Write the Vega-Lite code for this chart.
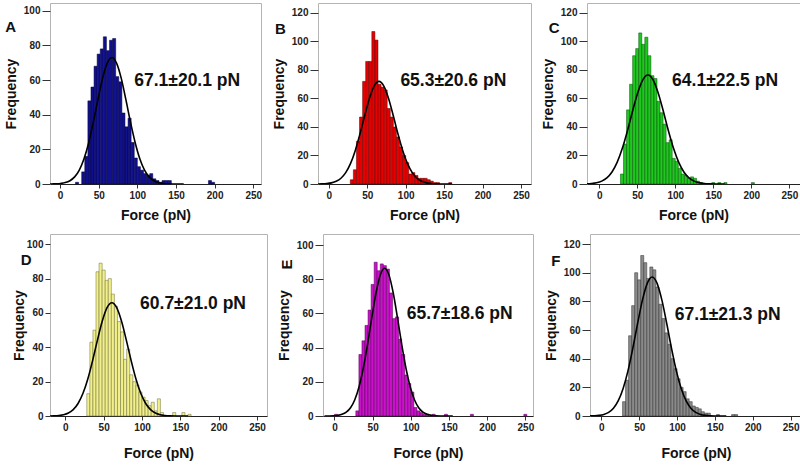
{
"$schema":"https://vega.github.io/schema/vega-lite/v6.json",
"padding":{"left":3,"top":2,"right":0,"bottom":0},
"background":"white",
"config":{
 "view":{"stroke":"#b4b4b4","strokeWidth":1},
 "axis":{"grid":false,"labelFont":"Liberation Sans","labelFontWeight":"bold","labelFontSize":10,"labelColor":"#222","titleFont":"Liberation Sans","titleFontWeight":"bold","titleFontSize":14,"titleColor":"#111","tickColor":"#333","domainColor":"#222"},
 "axisY":{"domain":false,"tickSize":8,"labelPadding":2,"titlePadding":5},
 "axisX":{"tickSize":4,"labelPadding":2,"titlePadding":8,"labelFlush":false}
},
"datasets":{
 "hA":[{"lo":20,"hi":24,"n":1},{"lo":28,"hi":32,"n":7},{"lo":32,"hi":36,"n":16},{"lo":36,"hi":40,"n":48},{"lo":40,"hi":44,"n":56},{"lo":44,"hi":48,"n":68},{"lo":48,"hi":52,"n":75},{"lo":52,"hi":56,"n":78},{"lo":56,"hi":60,"n":85},{"lo":60,"hi":64,"n":77},{"lo":64,"hi":68,"n":83},{"lo":68,"hi":72,"n":84},{"lo":72,"hi":76,"n":62},{"lo":76,"hi":80,"n":59},{"lo":80,"hi":84,"n":41},{"lo":84,"hi":88,"n":33},{"lo":88,"hi":92,"n":38},{"lo":92,"hi":96,"n":24},{"lo":96,"hi":100,"n":15},{"lo":100,"hi":104,"n":10},{"lo":104,"hi":108,"n":8},{"lo":108,"hi":112,"n":6},{"lo":112,"hi":116,"n":5},{"lo":116,"hi":120,"n":6},{"lo":120,"hi":124,"n":3},{"lo":124,"hi":128,"n":2},{"lo":128,"hi":132,"n":1},{"lo":132,"hi":136,"n":2},{"lo":136,"hi":140,"n":2},{"lo":140,"hi":144,"n":2},{"lo":192,"hi":196,"n":2},{"lo":196,"hi":200,"n":1}],
 "hB":[{"lo":28,"hi":32,"n":3},{"lo":32,"hi":36,"n":10},{"lo":36,"hi":40,"n":30},{"lo":40,"hi":44,"n":47},{"lo":44,"hi":48,"n":72},{"lo":48,"hi":52,"n":86},{"lo":52,"hi":56,"n":86},{"lo":56,"hi":60,"n":107},{"lo":60,"hi":64,"n":101},{"lo":64,"hi":68,"n":70},{"lo":68,"hi":72,"n":68},{"lo":72,"hi":76,"n":66},{"lo":76,"hi":80,"n":53},{"lo":80,"hi":84,"n":47},{"lo":84,"hi":88,"n":40},{"lo":88,"hi":92,"n":33},{"lo":92,"hi":96,"n":26},{"lo":96,"hi":100,"n":20},{"lo":100,"hi":104,"n":15},{"lo":104,"hi":108,"n":7},{"lo":108,"hi":112,"n":8},{"lo":112,"hi":116,"n":6},{"lo":116,"hi":120,"n":4},{"lo":120,"hi":124,"n":4},{"lo":124,"hi":128,"n":4},{"lo":128,"hi":132,"n":3},{"lo":132,"hi":136,"n":2},{"lo":136,"hi":140,"n":1},{"lo":140,"hi":144,"n":1},{"lo":156,"hi":160,"n":1}],
 "hC":[{"lo":28,"hi":32,"n":7},{"lo":32,"hi":36,"n":28},{"lo":36,"hi":40,"n":52},{"lo":40,"hi":44,"n":70},{"lo":44,"hi":48,"n":90},{"lo":48,"hi":52,"n":95},{"lo":52,"hi":56,"n":106},{"lo":56,"hi":60,"n":98},{"lo":60,"hi":64,"n":103},{"lo":64,"hi":68,"n":90},{"lo":68,"hi":72,"n":76},{"lo":72,"hi":76,"n":74},{"lo":76,"hi":80,"n":58},{"lo":80,"hi":84,"n":50},{"lo":84,"hi":88,"n":42},{"lo":88,"hi":92,"n":29},{"lo":92,"hi":96,"n":31},{"lo":96,"hi":100,"n":18},{"lo":100,"hi":104,"n":16},{"lo":104,"hi":108,"n":11},{"lo":108,"hi":112,"n":7},{"lo":112,"hi":116,"n":6},{"lo":116,"hi":120,"n":4},{"lo":120,"hi":124,"n":5},{"lo":124,"hi":128,"n":4},{"lo":128,"hi":132,"n":2},{"lo":132,"hi":136,"n":1},{"lo":148,"hi":152,"n":1},{"lo":156,"hi":160,"n":1},{"lo":164,"hi":168,"n":1},{"lo":200,"hi":204,"n":1}],
 "hD":[{"lo":28,"hi":32,"n":13},{"lo":32,"hi":36,"n":43},{"lo":36,"hi":40,"n":50},{"lo":40,"hi":44,"n":84},{"lo":44,"hi":48,"n":89},{"lo":48,"hi":52,"n":85},{"lo":52,"hi":56,"n":79},{"lo":56,"hi":60,"n":80},{"lo":60,"hi":64,"n":71},{"lo":64,"hi":68,"n":64},{"lo":68,"hi":72,"n":55},{"lo":72,"hi":76,"n":49},{"lo":76,"hi":80,"n":33},{"lo":80,"hi":84,"n":39},{"lo":84,"hi":88,"n":24},{"lo":88,"hi":92,"n":20},{"lo":92,"hi":96,"n":18},{"lo":96,"hi":100,"n":14},{"lo":100,"hi":104,"n":11},{"lo":104,"hi":108,"n":9},{"lo":108,"hi":112,"n":6},{"lo":112,"hi":116,"n":8},{"lo":116,"hi":120,"n":3},{"lo":120,"hi":124,"n":10},{"lo":124,"hi":128,"n":2},{"lo":140,"hi":144,"n":2},{"lo":152,"hi":156,"n":2},{"lo":160,"hi":164,"n":1}],
 "hE":[{"lo":0,"hi":4,"n":1},{"lo":28,"hi":32,"n":3},{"lo":32,"hi":36,"n":36},{"lo":36,"hi":40,"n":44},{"lo":40,"hi":44,"n":53},{"lo":44,"hi":48,"n":62},{"lo":48,"hi":52,"n":77},{"lo":52,"hi":56,"n":90},{"lo":56,"hi":60,"n":85},{"lo":60,"hi":64,"n":89},{"lo":64,"hi":68,"n":88},{"lo":68,"hi":72,"n":86},{"lo":72,"hi":76,"n":72},{"lo":76,"hi":80,"n":57},{"lo":80,"hi":84,"n":58},{"lo":84,"hi":88,"n":45},{"lo":88,"hi":92,"n":36},{"lo":92,"hi":96,"n":24},{"lo":96,"hi":100,"n":19},{"lo":100,"hi":104,"n":14},{"lo":104,"hi":108,"n":5},{"lo":108,"hi":112,"n":3},{"lo":112,"hi":116,"n":2},{"lo":116,"hi":120,"n":1},{"lo":120,"hi":124,"n":1},{"lo":128,"hi":132,"n":1},{"lo":144,"hi":148,"n":1},{"lo":178,"hi":182,"n":1},{"lo":248,"hi":252,"n":1}],
 "hF":[{"lo":28,"hi":32,"n":10},{"lo":32,"hi":36,"n":25},{"lo":36,"hi":40,"n":56},{"lo":40,"hi":44,"n":77},{"lo":44,"hi":48,"n":100},{"lo":48,"hi":52,"n":95},{"lo":52,"hi":56,"n":112},{"lo":56,"hi":60,"n":107},{"lo":60,"hi":64,"n":96},{"lo":64,"hi":68,"n":104},{"lo":68,"hi":72,"n":102},{"lo":72,"hi":76,"n":90},{"lo":76,"hi":80,"n":78},{"lo":80,"hi":84,"n":68},{"lo":84,"hi":88,"n":58},{"lo":88,"hi":92,"n":50},{"lo":92,"hi":96,"n":40},{"lo":96,"hi":100,"n":33},{"lo":100,"hi":104,"n":26},{"lo":104,"hi":108,"n":20},{"lo":108,"hi":112,"n":17},{"lo":112,"hi":116,"n":12},{"lo":116,"hi":120,"n":10},{"lo":120,"hi":124,"n":7},{"lo":124,"hi":128,"n":6},{"lo":128,"hi":132,"n":5},{"lo":132,"hi":136,"n":3},{"lo":136,"hi":140,"n":2},{"lo":140,"hi":144,"n":2},{"lo":152,"hi":156,"n":1},{"lo":172,"hi":176,"n":1},{"lo":176,"hi":180,"n":1}],
 "cA":[{"f":-13,"y":0},{"f":-11.3,"y":0.04},{"f":-5.3,"y":0.11},{"f":0.8,"y":0.32},{"f":6.8,"y":0.81},{"f":12.8,"y":1.91},{"f":18.9,"y":4.1},{"f":24.9,"y":8.05},{"f":30.9,"y":14.45},{"f":37.0,"y":23.7},{"f":43.0,"y":35.54},{"f":49.0,"y":48.69},{"f":55.0,"y":60.98},{"f":61.1,"y":69.79},{"f":67.1,"y":73},{"f":73.1,"y":69.79},{"f":79.2,"y":60.98},{"f":85.2,"y":48.69},{"f":91.2,"y":35.54},{"f":97.3,"y":23.7},{"f":103.3,"y":14.45},{"f":109.3,"y":8.05},{"f":115.3,"y":4.1},{"f":121.4,"y":1.91},{"f":127.4,"y":0.81},{"f":133.4,"y":0.32},{"f":139.5,"y":0.11},{"f":145.5,"y":0.04},{"f":160,"y":0}],
 "cB":[{"f":-15.04,"y":0.04},{"f":-8.86,"y":0.11},{"f":-2.68,"y":0.31},{"f":3.5,"y":0.8},{"f":9.68,"y":1.88},{"f":15.86,"y":4.04},{"f":22.04,"y":7.94},{"f":28.22,"y":14.25},{"f":34.4,"y":23.38},{"f":40.58,"y":35.05},{"f":46.76,"y":48.02},{"f":52.94,"y":60.14},{"f":59.12,"y":68.83},{"f":65.3,"y":72},{"f":71.48,"y":68.83},{"f":77.66,"y":60.14},{"f":83.84,"y":48.02},{"f":90.02,"y":35.05},{"f":96.2,"y":23.38},{"f":102.38,"y":14.25},{"f":108.56,"y":7.94},{"f":114.74,"y":4.04},{"f":120.92,"y":1.88},{"f":127.1,"y":0.8},{"f":133.28,"y":0.31},{"f":139.46,"y":0.11},{"f":145.64,"y":0.04},{"f":160,"y":0}],
 "cC":[{"f":-23.65,"y":0.04},{"f":-16.9,"y":0.12},{"f":-10.15,"y":0.33},{"f":-3.4,"y":0.85},{"f":3.35,"y":2.0},{"f":10.1,"y":4.29},{"f":16.85,"y":8.44},{"f":23.6,"y":15.14},{"f":30.35,"y":24.84},{"f":37.1,"y":37.24},{"f":43.85,"y":51.03},{"f":50.6,"y":63.9},{"f":57.35,"y":73.13},{"f":64.1,"y":76.5},{"f":70.85,"y":73.13},{"f":77.6,"y":63.9},{"f":84.35,"y":51.03},{"f":91.1,"y":37.24},{"f":97.85,"y":24.84},{"f":104.6,"y":15.14},{"f":111.35,"y":8.44},{"f":118.1,"y":4.29},{"f":124.85,"y":2.0},{"f":131.6,"y":0.85},{"f":138.35,"y":0.33},{"f":145.1,"y":0.12},{"f":151.85,"y":0.04},{"f":165,"y":0}],
 "cD":[{"f":-21.2,"y":0.03},{"f":-14.9,"y":0.1},{"f":-8.6,"y":0.29},{"f":-2.3,"y":0.73},{"f":4.0,"y":1.72},{"f":10.3,"y":3.7},{"f":16.6,"y":7.28},{"f":22.9,"y":13.06},{"f":29.2,"y":21.43},{"f":35.5,"y":32.13},{"f":41.8,"y":44.02},{"f":48.1,"y":55.13},{"f":54.4,"y":63.1},{"f":60.7,"y":66},{"f":67.0,"y":63.1},{"f":73.3,"y":55.13},{"f":79.6,"y":44.02},{"f":85.9,"y":32.13},{"f":92.2,"y":21.43},{"f":98.5,"y":13.06},{"f":104.8,"y":7.28},{"f":111.1,"y":3.7},{"f":117.4,"y":1.72},{"f":123.7,"y":0.73},{"f":130.0,"y":0.29},{"f":136.3,"y":0.1},{"f":142.6,"y":0.03},{"f":160,"y":0}],
 "cE":[{"f":-13,"y":0.01},{"f":-6.84,"y":0.04},{"f":-1.26,"y":0.13},{"f":4.32,"y":0.37},{"f":9.9,"y":0.96},{"f":15.48,"y":2.26},{"f":21.06,"y":4.85},{"f":26.64,"y":9.54},{"f":32.22,"y":17.12},{"f":37.8,"y":28.09},{"f":43.38,"y":42.11},{"f":48.96,"y":57.7},{"f":54.54,"y":72.25},{"f":60.12,"y":82.69},{"f":65.7,"y":86.5},{"f":71.28,"y":82.69},{"f":76.86,"y":72.25},{"f":82.44,"y":57.7},{"f":88.02,"y":42.11},{"f":93.6,"y":28.09},{"f":99.18,"y":17.12},{"f":104.76,"y":9.54},{"f":110.34,"y":4.85},{"f":115.92,"y":2.26},{"f":121.5,"y":0.96},{"f":127.08,"y":0.37},{"f":132.66,"y":0.13},{"f":138.24,"y":0.04},{"f":155,"y":0}],
 "cF":[{"f":-15.97,"y":0.05},{"f":-9.58,"y":0.15},{"f":-3.19,"y":0.42},{"f":3.2,"y":1.08},{"f":9.59,"y":2.53},{"f":15.98,"y":5.44},{"f":22.37,"y":10.7},{"f":28.76,"y":19.2},{"f":35.15,"y":31.5},{"f":41.54,"y":47.22},{"f":47.93,"y":64.7},{"f":54.32,"y":81.02},{"f":60.71,"y":92.73},{"f":67.1,"y":97},{"f":73.49,"y":92.73},{"f":79.88,"y":81.02},{"f":86.27,"y":64.7},{"f":92.66,"y":47.22},{"f":99.05,"y":31.5},{"f":105.44,"y":19.2},{"f":111.83,"y":10.7},{"f":118.22,"y":5.44},{"f":124.61,"y":2.53},{"f":131.0,"y":1.08},{"f":137.39,"y":0.42},{"f":143.78,"y":0.15},{"f":150.17,"y":0.05},{"f":165,"y":0}]
},
"spacing":10,
"vconcat":[
 {"spacing":8,"hconcat":[
  {"width":211,"height":181,"layer":[
   {"data":{"name":"hA"},"mark":{"type":"bar","fill":"#10108c","stroke":"#05053c","strokeWidth":0.5},
    "encoding":{"x":{"field":"lo","type":"quantitative","title":"Force (pN)","scale":{"domain":[-13,260],"nice":false,"zero":false},"axis":{"values":[0,50,100,150,200,250]}},"x2":{"field":"hi"},
     "y":{"field":"n","type":"quantitative","title":"Frequency","scale":{"domain":[0,104.5],"nice":false},"axis":{"tickCount":6,"labelOverlap":false,"labelBound":false}},"y2":{"datum":0}}},
   {"data":{"name":"cA"},"mark":{"type":"line","color":"#000","strokeWidth":1.6,"interpolate":"monotone","clip":true},
    "encoding":{"x":{"field":"f","type":"quantitative","title":"Force (pN)"},"y":{"field":"y","type":"quantitative","title":"Frequency"}}},
   {"data":{"values":[{"t":"67.1±20.1 pN","p":"A"}]},"mark":{"type":"text","fontSize":17.5,"font":"Liberation Sans","fontWeight":"bold","color":"#111"},
    "encoding":{"x":{"datum":164.5},"y":{"datum":59.4},"text":{"field":"t"}}},
   {"data":{"values":[{"t":"67.1±20.1 pN","p":"A"}]},"mark":{"type":"text","fontSize":15,"font":"Liberation Sans","fontWeight":"bold","color":"#111"},
    "encoding":{"x":{"datum":-64},"y":{"datum":90.6},"text":{"field":"p"}}}
  ]},
  {"width":213,"height":181,"layer":[
   {"data":{"name":"hB"},"mark":{"type":"bar","fill":"#e60000","stroke":"#5a0000","strokeWidth":0.5},
    "encoding":{"x":{"field":"lo","type":"quantitative","title":"Force (pN)","scale":{"domain":[-14,263],"nice":false,"zero":false},"axis":{"values":[0,50,100,150,200,250]}},"x2":{"field":"hi"},
     "y":{"field":"n","type":"quantitative","title":"Frequency","scale":{"domain":[0,127],"nice":false},"axis":{"tickCount":7,"labelOverlap":false,"labelBound":false}},"y2":{"datum":0}}},
   {"data":{"name":"cB"},"mark":{"type":"line","color":"#000","strokeWidth":1.6,"interpolate":"monotone","clip":true},
    "encoding":{"x":{"field":"f","type":"quantitative","title":"Force (pN)"},"y":{"field":"y","type":"quantitative","title":"Frequency"}}},
   {"data":{"values":[{"t":"65.3±20.6 pN","p":"B"}]},"mark":{"type":"text","fontSize":17.5,"font":"Liberation Sans","fontWeight":"bold","color":"#111"},
    "encoding":{"x":{"datum":162},"y":{"datum":72.5},"text":{"field":"t"}}},
   {"data":{"values":[{"t":"65.3±20.6 pN","p":"B"}]},"mark":{"type":"text","fontSize":15,"font":"Liberation Sans","fontWeight":"bold","color":"#111"},
    "encoding":{"x":{"datum":-63},"y":{"datum":109},"text":{"field":"p"}}}
  ]},
  {"width":213,"height":181,"layer":[
   {"data":{"name":"hC"},"mark":{"type":"bar","fill":"#1ec81e","stroke":"#0a4a0a","strokeWidth":0.5},
    "encoding":{"x":{"field":"lo","type":"quantitative","title":"Force (pN)","scale":{"domain":[-16,264],"nice":false,"zero":false},"axis":{"values":[0,50,100,150,200,250]}},"x2":{"field":"hi"},
     "y":{"field":"n","type":"quantitative","title":"Frequency","scale":{"domain":[0,127],"nice":false},"axis":{"tickCount":7,"labelOverlap":false,"labelBound":false}},"y2":{"datum":0}}},
   {"data":{"name":"cC"},"mark":{"type":"line","color":"#000","strokeWidth":1.6,"interpolate":"monotone","clip":true},
    "encoding":{"x":{"field":"f","type":"quantitative","title":"Force (pN)"},"y":{"field":"y","type":"quantitative","title":"Frequency"}}},
   {"data":{"values":[{"t":"64.1±22.5 pN","p":"C"}]},"mark":{"type":"text","fontSize":17.5,"font":"Liberation Sans","fontWeight":"bold","color":"#111"},
    "encoding":{"x":{"datum":165.5},"y":{"datum":72.3},"text":{"field":"t"}}},
   {"data":{"values":[{"t":"64.1±22.5 pN","p":"C"}]},"mark":{"type":"text","fontSize":15,"font":"Liberation Sans","fontWeight":"bold","color":"#111"},
    "encoding":{"x":{"datum":-59},"y":{"datum":109.6},"text":{"field":"p"}}}
  ]}
 ]},
 {"spacing":8,"hconcat":[
  {"width":217,"height":182,"layer":[
   {"data":{"name":"hD"},"mark":{"type":"bar","fill":"#f2f08a","stroke":"#6a6a3a","strokeWidth":0.5},
    "encoding":{"x":{"field":"lo","type":"quantitative","title":"Force (pN)","scale":{"domain":[-20,263],"nice":false,"zero":false},"axis":{"values":[0,50,100,150,200,250],"titlePadding":14}},"x2":{"field":"hi"},
     "y":{"field":"n","type":"quantitative","title":"Frequency","scale":{"domain":[0,106],"nice":false},"axis":{"tickCount":6,"tickSize":5,"titlePadding":0,"labelOverlap":false,"labelBound":false}},"y2":{"datum":0}}},
   {"data":{"name":"cD"},"mark":{"type":"line","color":"#000","strokeWidth":1.6,"interpolate":"monotone","clip":true},
    "encoding":{"x":{"field":"f","type":"quantitative","title":"Force (pN)"},"y":{"field":"y","type":"quantitative","title":"Frequency"}}},
   {"data":{"values":[{"t":"60.7±21.0 pN","p":"D"}]},"mark":{"type":"text","fontSize":17.5,"font":"Liberation Sans","fontWeight":"bold","color":"#111"},
    "encoding":{"x":{"datum":166.5},"y":{"datum":65},"text":{"field":"t"}}},
   {"data":{"values":[{"t":"60.7±21.0 pN","p":"D"}]},"mark":{"type":"text","fontSize":15,"font":"Liberation Sans","fontWeight":"bold","color":"#111"},
    "encoding":{"x":{"datum":-51},"y":{"datum":90.7},"text":{"field":"p"}}}
  ]},
  {"width":210,"height":182,"layer":[
   {"data":{"name":"hE"},"mark":{"type":"bar","fill":"#cc11cc","stroke":"#4a004a","strokeWidth":0.5},
    "encoding":{"x":{"field":"lo","type":"quantitative","title":"Force (pN)","scale":{"domain":[-15,260],"nice":false,"zero":false},"axis":{"values":[0,50,100,150,200,250],"titlePadding":14}},"x2":{"field":"hi"},
     "y":{"field":"n","type":"quantitative","title":"Frequency","scale":{"domain":[0,106.5],"nice":false},"axis":{"tickCount":6,"labelOverlap":false,"labelBound":false}},"y2":{"datum":0}}},
   {"data":{"name":"cE"},"mark":{"type":"line","color":"#000","strokeWidth":1.6,"interpolate":"monotone","clip":true},
    "encoding":{"x":{"field":"f","type":"quantitative","title":"Force (pN)"},"y":{"field":"y","type":"quantitative","title":"Frequency"}}},
   {"data":{"values":[{"t":"65.7±18.6 pN","p":"E"}]},"mark":{"type":"text","fontSize":17.5,"font":"Liberation Sans","fontWeight":"bold","color":"#111"},
    "encoding":{"x":{"datum":164},"y":{"datum":59.7},"text":{"field":"t"}}},
   {"data":{"values":[{"t":"65.7±18.6 pN","p":"E"}]},"mark":{"type":"text","fontSize":15,"angle":270,"font":"Liberation Sans","fontWeight":"bold","color":"#111"},
    "encoding":{"x":{"datum":-62},"y":{"datum":88.6},"text":{"field":"p"}}}
  ]},
  {"width":212,"height":182,"layer":[
   {"data":{"name":"hF"},"mark":{"type":"bar","fill":"#8a8a8a","stroke":"#303030","strokeWidth":0.5},
    "encoding":{"x":{"field":"lo","type":"quantitative","title":"Force (pN)","scale":{"domain":[-15,265],"nice":false,"zero":false},"axis":{"values":[0,50,100,150,200,250],"titlePadding":14}},"x2":{"field":"hi"},
     "y":{"field":"n","type":"quantitative","title":"Frequency","scale":{"domain":[0,127],"nice":false},"axis":{"tickCount":7,"labelOverlap":false,"labelBound":false}},"y2":{"datum":0}}},
   {"data":{"name":"cF"},"mark":{"type":"line","color":"#000","strokeWidth":1.6,"interpolate":"monotone","clip":true},
    "encoding":{"x":{"field":"f","type":"quantitative","title":"Force (pN)"},"y":{"field":"y","type":"quantitative","title":"Frequency"}}},
   {"data":{"values":[{"t":"67.1±21.3 pN","p":"F"}]},"mark":{"type":"text","fontSize":17.5,"font":"Liberation Sans","fontWeight":"bold","color":"#111"},
    "encoding":{"x":{"datum":166.8},"y":{"datum":70.5},"text":{"field":"t"}}},
   {"data":{"values":[{"t":"67.1±21.3 pN","p":"F"}]},"mark":{"type":"text","fontSize":15,"font":"Liberation Sans","fontWeight":"bold","color":"#111"},
    "encoding":{"x":{"datum":-60},"y":{"datum":108},"text":{"field":"p"}}}
  ]}
 ]}
]
}
